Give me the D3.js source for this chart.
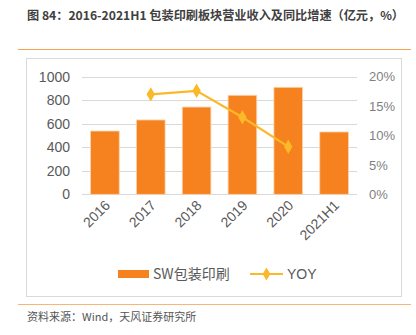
<!DOCTYPE html>
<html><head><meta charset="utf-8">
<script src="https://cdn.jsdelivr.net/npm/d3@7"></script>
<style>body{margin:0;background:#fff;}svg{display:block;font-family:"Liberation Sans","Noto Sans CJK SC",sans-serif;}</style>
</head><body><svg id="c" width="416" height="335"></svg>
<script>
const categories = ["2016","2017","2018","2019","2020","2021H1"];
const revenue = [538, 632, 742, 842, 910, 530];
const yoy = [null, 17.0, 17.6, 13.1, 8.1, null];
const leftTicks = [0,200,400,600,800,1000];
const rightTicks = [0,5,10,15,20];

const svg = d3.select("#c");
const fontCJK = '"Noto Sans CJK SC","Liberation Sans",sans-serif';

svg.append("text").attr("x",27).attr("y",20).attr("font-size",12.2).attr("font-weight","bold")
  .attr("fill","#404040").attr("font-family",fontCJK)
  .attr("textLength",377).attr("lengthAdjust","spacingAndGlyphs")
  .text("图 84：2016-2021H1 包装印刷板块营业收入及同比增速（亿元，%）");
svg.append("line").attr("x1",18).attr("x2",411).attr("y1",49.5).attr("y2",49.5).attr("stroke","#F7A350").attr("stroke-width",1);
svg.append("rect").attr("x",26.5).attr("y",58.5).attr("width",375).attr("height",238).attr("fill","none").attr("stroke","#D9D9D9");
svg.append("line").attr("x1",18).attr("x2",411).attr("y1",304.5).attr("y2",304.5).attr("stroke","#F7B57A").attr("stroke-width",1);
svg.append("text").attr("x",27).attr("y",321).attr("font-size",11).attr("fill","#555").attr("font-family",fontCJK)
  .text("资料来源：Wind，天风证券研究所");

const x = d3.scaleBand().domain(categories).range([82,357]).paddingInner(0.375).paddingOuter(0.1875);
const yL = d3.scaleLinear().domain([0,1000]).range([194.3,76.7]);
const yR = d3.scaleLinear().domain([0,20]).range([194.3,76.7]);

const grid = svg.append("g");
grid.selectAll("line").data(leftTicks).join("line")
  .attr("x1",82).attr("x2",357).attr("y1",d=>Math.round(yL(d))+0.5).attr("y2",d=>Math.round(yL(d))+0.5)
  .attr("stroke","#D9D9D9").attr("stroke-width",1);

const axL = svg.append("g").attr("transform","translate(70,0)")
  .call(d3.axisLeft(yL).tickValues(leftTicks).tickSize(0).tickPadding(0).tickFormat(d3.format("d")));
axL.select(".domain").remove();
axL.selectAll("text").attr("font-size",14).attr("fill","#595959").attr("font-family",'"Liberation Sans",sans-serif');

const axR = svg.append("g").attr("transform","translate(369,0)")
  .call(d3.axisRight(yR).tickValues(rightTicks).tickSize(0).tickPadding(0).tickFormat(d=>d+"%"));
axR.select(".domain").remove();
axR.selectAll("text").attr("font-size",13).attr("fill","#7F7F7F").attr("font-family",'"Liberation Sans Narrow","Liberation Sans",sans-serif');

svg.append("g").selectAll("rect").data(categories).join("rect")
  .attr("x",(d)=>x(d)).attr("width",x.bandwidth())
  .attr("y",(d,i)=>yL(revenue[i])).attr("height",(d,i)=>yL(0)-yL(revenue[i]))
  .attr("fill","#F5821F").attr("stroke","#FBD3AE").attr("stroke-width",0.8);

const pts = categories.map((c,i)=>({c,v:yoy[i]})).filter(p=>p.v!=null);
const line = d3.line().x(p=>x(p.c)+x.bandwidth()/2).y(p=>yR(p.v));
svg.append("path").datum(pts).attr("d",line).attr("fill","none").attr("stroke","#FBB829").attr("stroke-width",2.2);
svg.append("g").selectAll("path").data(pts).join("path")
  .attr("d",d3.symbol(d3.symbolDiamond,60)())
  .attr("transform",p=>`translate(${x(p.c)+x.bandwidth()/2},${yR(p.v)})`).attr("fill","#FBB829");

const axB = svg.append("g").attr("transform","translate(0,194.3)")
  .call(d3.axisBottom(x).tickSize(0).tickPadding(0));
axB.select(".domain").remove();
axB.selectAll("text").attr("font-size",14).attr("fill","#595959").attr("font-family",'"Liberation Sans",sans-serif')
  .attr("text-anchor","end").attr("dy",0).attr("transform","translate(6,12) rotate(-45)");

// legend
const lg = svg.append("g");
lg.append("rect").attr("x",118).attr("y",270).attr("width",31).attr("height",8).attr("fill","#F5821F");
lg.append("text").attr("x",153).attr("y",279).attr("font-size",14).attr("fill","#595959").attr("font-family",fontCJK).text("SW包装印刷");
lg.append("line").attr("x1",250).attr("x2",283).attr("y1",274).attr("y2",274).attr("stroke","#FBB829").attr("stroke-width",2.2);
lg.append("path").attr("d",d3.symbol(d3.symbolDiamond,50)()).attr("transform","translate(266.5,274)").attr("fill","#FBB829");
lg.append("text").attr("x",287).attr("y",279).attr("font-size",14).attr("fill","#595959").attr("font-family",'"Liberation Sans",sans-serif').text("YOY");
</script></body></html>
